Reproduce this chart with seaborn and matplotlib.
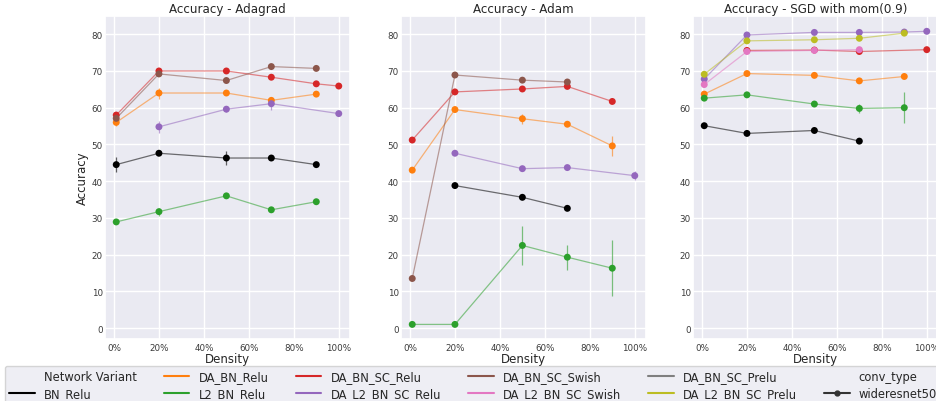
import numpy as np
import pandas as pd
import matplotlib
matplotlib.use("Agg")
import matplotlib.pyplot as plt
from matplotlib.lines import Line2D
from matplotlib.ticker import FuncFormatter
import seaborn as sns

# ---------------- data ----------------
density = [1, 20, 50, 70, 90, 100]

variants = ["BN_Relu", "DA_BN_Relu", "L2_BN_Relu", "DA_BN_SC_Relu",
            "DA_L2_BN_SC_Relu", "DA_BN_SC_Swish", "DA_L2_BN_SC_Swish",
            "DA_BN_SC_Prelu", "DA_L2_BN_SC_Prelu"]
colors = ["#000000", "#ff7f0e", "#2ca02c", "#d62728", "#9467bd",
          "#8c564b", "#e377c2", "#7f7f7f", "#bcbd22"]

titles = ["Accuracy - Adagrad", "Accuracy - Adam", "Accuracy - SGD with mom(0.9)"]

N = None
adagrad_acc = {
    "BN_Relu":          [44.5, 47.6, 46.3, 46.3, 44.5, N],
    "DA_BN_Relu":       [56.0, 64.0, 64.0, 62.0, 63.7, N],
    "L2_BN_Relu":       [28.9, 31.7, 36.0, 32.2, 34.4, N],
    "DA_BN_SC_Relu":    [58.0, 70.0, 70.0, 68.3, 66.5, 65.9],
    "DA_L2_BN_SC_Relu": [N, 54.8, 59.6, 61.1, N, 58.4],
    "DA_BN_SC_Swish":   [57.1, 69.2, 67.4, 71.2, 70.7, N],
}
adagrad_err = {
    "BN_Relu":          [2.0, 0.5, 1.9, 0.6, 0.5, N],
    "DA_BN_Relu":       [0.9, 1.5, 0.6, 0.8, 0.5, N],
    "L2_BN_Relu":       [0.5, 1.1, 0.5, 0.5, 0.5, N],
    "DA_BN_SC_Relu":    [0.5, 0.4, 0.4, 0.4, 0.4, 0.4],
    "DA_L2_BN_SC_Relu": [N, 1.6, 0.9, 1.6, N, 0.5],
    "DA_BN_SC_Swish":   [0.5, 0.4, 0.4, 0.4, 0.3, N],
}

adam_acc = {
    "BN_Relu":          [N, 38.8, 35.6, 32.6, N, N],
    "DA_BN_Relu":       [43.0, 59.5, 57.0, 55.5, 49.6, N],
    "L2_BN_Relu":       [1.0, 1.0, 22.5, 19.3, 16.3, N],
    "DA_BN_SC_Relu":    [51.2, 64.3, 65.1, 65.8, 61.7, N],
    "DA_L2_BN_SC_Relu": [N, 47.6, 43.4, 43.7, N, 41.5],
    "DA_BN_SC_Swish":   [13.5, 68.9, 67.5, 67.0, N, N],
}
adam_err = {
    "BN_Relu":          [N, 0.3, 0.3, 0.3, N, N],
    "DA_BN_Relu":       [0.3, 0.4, 1.4, 0.4, 2.7, N],
    "L2_BN_Relu":       [0.1, 0.1, 5.3, 3.4, 7.6, N],
    "DA_BN_SC_Relu":    [0.3, 0.3, 0.6, 0.4, 0.3, N],
    "DA_L2_BN_SC_Relu": [N, 0.4, 0.4, 0.4, N, 1.2],
    "DA_BN_SC_Swish":   [0.3, 0.3, 0.3, 0.3, N, N],
}

sgd_acc = {
    "BN_Relu":           [55.1, 53.0, 53.8, 50.9, N, N],
    "DA_BN_Relu":        [63.7, 69.3, 68.8, 67.3, 68.5, N],
    "L2_BN_Relu":        [62.6, 63.5, 61.0, 59.8, 60.0, N],
    "DA_BN_SC_Relu":     [N, 75.6, 75.7, 75.3, N, 75.8],
    "DA_L2_BN_SC_Relu":  [67.8, 79.8, 80.5, 80.5, 80.6, 80.8],
    "DA_L2_BN_SC_Swish": [66.3, 75.3, 75.6, 75.8, N, N],
    "DA_L2_BN_SC_Prelu": [69.1, 78.2, 78.5, 78.9, 80.3, N],
}
sgd_err = {
    "BN_Relu":           [0.3, 0.3, 0.3, 0.3, N, N],
    "DA_BN_Relu":        [0.3, 0.3, 0.3, 0.3, 0.3, N],
    "L2_BN_Relu":        [0.6, 0.3, 0.3, 1.3, 4.3, N],
    "DA_BN_SC_Relu":     [N, 0.3, 0.3, 0.3, N, 0.3],
    "DA_L2_BN_SC_Relu":  [0.3, 0.3, 0.3, 0.3, 0.3, 0.3],
    "DA_L2_BN_SC_Swish": [0.3, 0.3, 0.3, 0.3, N, N],
    "DA_L2_BN_SC_Prelu": [0.3, 0.3, 0.3, 0.3, 0.3, N],
}

panels = [(adagrad_acc, adagrad_err), (adam_acc, adam_err), (sgd_acc, sgd_err)]

# ---------------- plotting ----------------
sns.set_theme(style="darkgrid")
plt.rcParams["font.family"] = ["DejaVu Sans"]

palette = dict(zip(variants, colors))

fig = plt.figure(figsize=(9.37, 4.02), dpi=100)
W = 245 / 937
lefts = [105 / 937, 401 / 937, 693 / 937]
axes = [fig.add_axes([l, 0.154, W, 0.804]) for l in lefts]

for i, (ax, (acc, err), title) in enumerate(zip(axes, panels, titles)):
    rows = []
    for v, ys in acc.items():
        for x, y, e in zip(density, ys, err[v]):
            if y is not None:
                rows.append({"Density": x, "Accuracy": y, "err": e,
                             "Network Variant": v, "conv_type": "wideresnet50"})
    df = pd.DataFrame(rows)
    order = [v for v in variants if v in acc]
    sns.lineplot(data=df, x="Density", y="Accuracy", hue="Network Variant",
                 hue_order=order, palette=palette, ax=ax, legend=False,
                 errorbar=None, lw=0.9, alpha=0.55, sort=True)
    for v in order:
        sub = df[df["Network Variant"] == v]
        ax.errorbar(sub["Density"], sub["Accuracy"], yerr=sub["err"],
                    fmt="none", ecolor=palette[v], elinewidth=0.9, alpha=0.6,
                    capsize=0, zorder=2)
    sns.scatterplot(data=df, x="Density", y="Accuracy", hue="Network Variant",
                    hue_order=order, palette=palette, ax=ax, legend=False,
                    s=25, linewidth=0, zorder=4)
    ax.set_xlim(-4, 105)
    ax.set_ylim(-3, 85)
    ax.set_xticks([0, 20, 40, 60, 80, 100])
    ax.set_yticks([0, 10, 20, 30, 40, 50, 60, 70, 80])
    ax.xaxis.set_major_formatter(FuncFormatter(lambda x, p: f"{x:.0f}%"))
    ax.tick_params(axis="x", labelsize=6.3, pad=2.5, length=0, colors="#3a3a3a")
    ax.tick_params(axis="y", labelsize=6.3, pad=1.5, length=0, colors="#3a3a3a")
    ax.set_title(title, fontsize=8.6, pad=2.5)
    ax.set_xlabel("Density", fontsize=8.5, labelpad=0.5)
    if i == 0:
        ax.set_ylabel("Accuracy", fontsize=8.5, labelpad=2)
    else:
        ax.set_ylabel("")

# ---------------- legend ----------------
blank = Line2D([], [], color="none")
handles = [blank]
labels = ["Network Variant"]
for v, c in zip(variants, colors):
    handles.append(Line2D([], [], color=c, lw=1.5))
    labels.append(v)
handles.append(blank)
labels.append("conv_type")
handles.append(Line2D([], [], color="#333333", lw=1.5, marker="o", markersize=3.5))
labels.append("wideresnet50")

fig.legend(handles, labels, ncol=6, loc="upper left",
           bbox_to_anchor=(0.005, -0.3, 1.0, 0.388), mode="expand",
           fontsize=8.3, frameon=True, borderaxespad=0, handlelength=2.2,
           columnspacing=1.0, labelspacing=0.35)

fig.savefig("out.png", dpi=100)
